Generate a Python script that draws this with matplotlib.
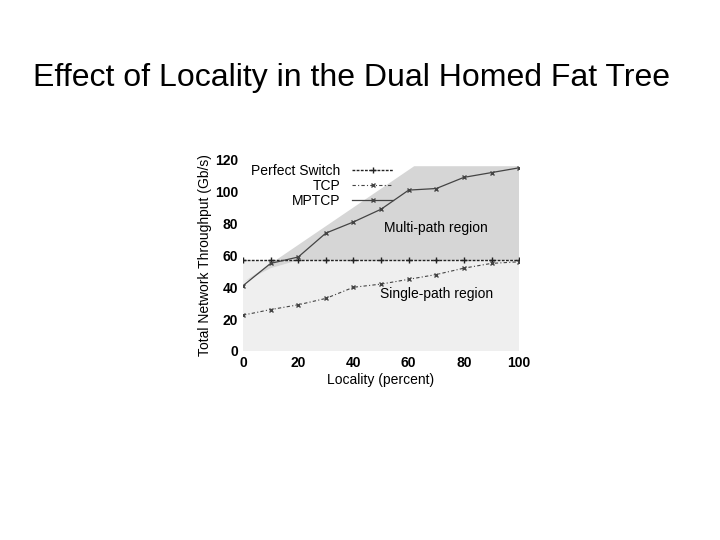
import matplotlib
matplotlib.use("Agg")
import matplotlib.pyplot as plt

plt.rcParams['font.family'] = ['Liberation Sans', 'DejaVu Sans']

locality = [0, 10, 20, 30, 40, 50, 60, 70, 80, 90, 100]
mptcp = [41, 55, 59, 74, 81, 89, 101, 102, 109, 112, 115]
tcp = [22.5, 26, 29, 33, 40, 42, 45, 48, 52, 55, 56]
perfect = [57] * 11
multi_x = [0, 62, 100, 100, 20, 10]
multi_y = [43, 116, 116, 57, 57, 52]

fig = plt.figure(figsize=(7.2, 5.4), dpi=100)
fig.text(0.488, 0.856, "Effect of Locality in the Dual Homed Fat Tree", ha="center", va="center", fontsize=23)
ax = fig.add_axes([0.3375, 0.35, 0.3835, 0.354])
ax.fill_between([0, 100], [0, 0], [57, 57], color="#efefef", lw=0, zorder=0)
ax.fill(multi_x, multi_y, color="#d6d6d6", lw=0, zorder=1)
ax.plot(locality, perfect, ls=(0, (2, 1)), color="#222222", lw=1, marker="+", ms=4, label="Perfect Switch", zorder=3)
ax.plot(locality, tcp, ls=(0, (3, 2, 1, 2)), color="#444444", lw=0.8, marker="x", ms=3, label="TCP", zorder=3)
ax.plot(locality, mptcp, ls="-", color="#444444", lw=0.9, marker="x", ms=3, label="MPTCP", zorder=3)
ax.set_xlim(0, 100)
ax.set_ylim(0, 120)
ax.set_xticks(range(0, 101, 20))
ax.set_yticks(range(0, 121, 20))
ax.tick_params(labelsize=10, length=0)
for l in ax.get_xticklabels() + ax.get_yticklabels():
    l.set_fontweight("bold")
for s in ax.spines.values():
    s.set_visible(False)
ax.set_xlabel("Locality (percent)", fontsize=10, labelpad=2)
ax.set_ylabel("Total Network Throughput (Gb/s)", fontsize=10, labelpad=2)
ax.text(70, 75, "Multi-path region", fontsize=10, ha="center")
ax.text(70, 33, "Single-path region", fontsize=10, ha="center")
leg = ax.legend(loc="upper left", bbox_to_anchor=(0.0, 1.02), frameon=False, fontsize=10,
                markerfirst=False, handlelength=3, labelspacing=0.05, borderaxespad=0.2)
fig.savefig("out.png", dpi=100)
